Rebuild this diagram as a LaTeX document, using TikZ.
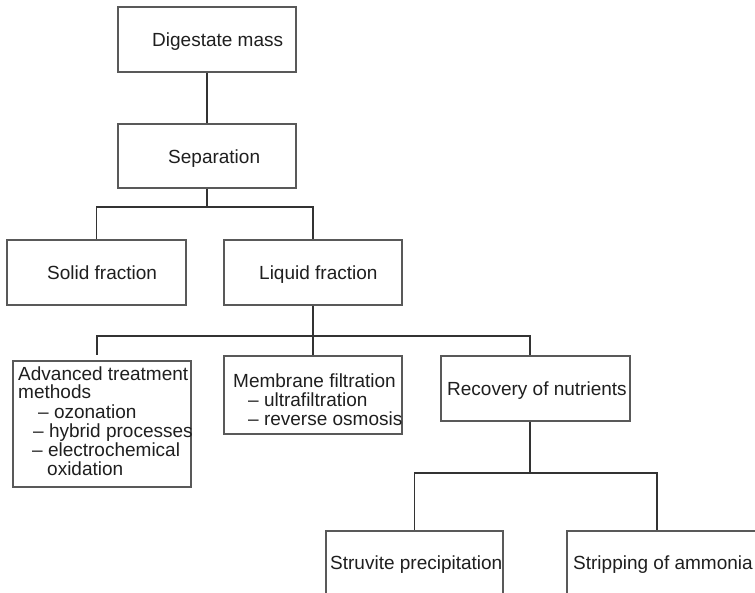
\documentclass[tikz,border=0pt]{standalone}
\usepackage{fontspec}
\setmainfont{Liberation Sans}
\begin{document}
\begin{tikzpicture}[x=1pt,y=-1pt,
  box/.style={draw=black!65, line width=1.3pt, rectangle, inner sep=0pt, fill=white},
  txt/.style={inner sep=0pt, anchor=base west, text=black!88, font=\fontsize{19}{19}\selectfont},
  conn/.style={draw=black!80, line width=1.4pt}]
\useasboundingbox (0,0) rectangle (755,592);
\clip (0,0) rectangle (755,592);
% boxes
\node[box, minimum width=178pt, minimum height=65pt] (dig) at (207,39.5) {};
\node[box, minimum width=178pt, minimum height=64pt] (sep) at (207,156) {};
\node[box, minimum width=179pt, minimum height=65pt] (sol) at (96.5,272.5) {};
\node[box, minimum width=178pt, minimum height=65pt] (liq) at (313,272.5) {};
\node[box, minimum width=178pt, minimum height=126pt] (adv) at (102,424) {};
\node[box, minimum width=178pt, minimum height=78pt] (mem) at (313,395) {};
\node[box, minimum width=189pt, minimum height=65pt] (rec) at (535.5,388.5) {};
\node[box, minimum width=177pt, minimum height=65pt] (str) at (414.5,563.5) {};
\node[box, minimum width=198pt, minimum height=65pt] (amm) at (666,563.5) {};
% texts
\node[txt] (tdig) at (152,46) {Digestate mass};
\node[txt] (tsep) at (168,163) {Separation};
\node[txt] (tsol) at (47,279) {Solid fraction};
\node[txt] (tliq) at (259,279) {Liquid fraction};
\node[txt] (tadv1) at (18,380) {Advanced treatment};
\node[txt] (tadv2) at (18,398) {methods};
\node[txt] (tadv3) at (38,418) {– ozonation};
\node[txt] (tadv4) at (33,437) {– hybrid processes};
\node[txt] (tadv5) at (32,456) {– electrochemical};
\node[txt] (tadv6) at (47,475) {oxidation};
\node[txt] (tmem1) at (233,387) {Membrane filtration};
\node[txt] (tmem2) at (248,406) {– ultrafiltration};
\node[txt] (tmem3) at (248,425) {– reverse osmosis};
\node[txt] (trec) at (447,395) {Recovery of nutrients};
\node[txt] (tstr) at (330,569) {Struvite precipitation};
\node[txt] (tamm) at (573,569) {Stripping of ammonia};
% connectors
\coordinate (b1) at (207,207);
\coordinate (b2) at (313,336);
\coordinate (b3) at (530,473);
\draw[conn] (dig.south) -- (sep.north);
\draw[conn] (sep.south) -- (b1);
\draw[conn] (b1) -| (sol.north);
\draw[conn] (b1) -| (liq.north);
\draw[conn] (liq.south) -- (b2);
\draw[conn, shorten >=5pt] (b2) -| ([xshift=-5pt]adv.north);
\draw[conn] (b2) -- (mem.north);
\draw[conn] (b2) -| ([xshift=-5.5pt]rec.north);
\draw[conn] ([xshift=-5.5pt]rec.south) -- (b3);
\draw[conn] (b3) -| (str.north);
\draw[conn] (b3) -| ([xshift=-9pt]amm.north);
\end{tikzpicture}
\end{document}
